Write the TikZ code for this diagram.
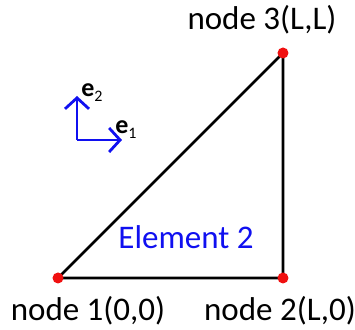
\documentclass[tikz,border=0pt]{standalone}
\usepackage{fontspec}
\setmainfont{Carlito}
\usepackage{xcolor}
\usepackage{tikz}
\usetikzlibrary{arrows.meta,positioning}
\definecolor{vertexred}{HTML}{F01010}
\definecolor{basisblue}{HTML}{1010F0}
\definecolor{ink}{HTML}{000000}
\newcommand{\basisvec}[1]{\textbf{e}\raisebox{-0.4ex}{\fontsize{8}{9}\selectfont #1}}

\begin{document}
\begin{tikzpicture}[
  x=0.5pt, y=-0.5pt,
  vertex/.style={circle, fill=vertexred, inner sep=0pt, minimum size=5.5pt},
  edge/.style={line width=1.3pt, draw=ink},
  basis/.style={-{Straight Barb[length=5.5pt,width=12pt]}, line width=1.4pt, draw=basisblue},
  tag/.style={inner sep=0pt, font=\fontsize{16.5}{19}\selectfont},
  basislabel/.style={inner sep=0pt, font=\fontsize{13}{15}\selectfont}
]
\useasboundingbox (0,0) rectangle (355,330);
\coordinate (p1) at (58,278);
\coordinate (p2) at (283,278);
\coordinate (p3) at (283,53);
\draw[edge] (p1) -- (p2) -- (p3) -- cycle;
\node[vertex] (n1) at (p1) {};
\node[vertex] (n2) at (p2) {};
\node[vertex] (n3) at (p3) {};

\node[tag, below=6pt of n1, xshift=15pt] (l1) {node 1(0,0)};
\node[tag, below=6pt of n2, xshift=-1.5pt] (l2) {node 2(L,0)};
\node[tag, above=6.5pt of n3, xshift=-10.5pt] (l3) {node 3(L,L)};
\node[tag, text=basisblue] (elem) at (186,237) {Element 2};

% basis vectors
\coordinate (o) at (77,140);
\coordinate (t1) at (122,140);
\coordinate (t2) at (77,96);
\draw[basis] (o) -- (t1);
\draw[basis] (o) -- (t2);
\node[basislabel] (e1) at (126,130) {\basisvec{1}};
\node[basislabel] (e2) at (92,93) {\basisvec{2}};
\end{tikzpicture}
\end{document}
